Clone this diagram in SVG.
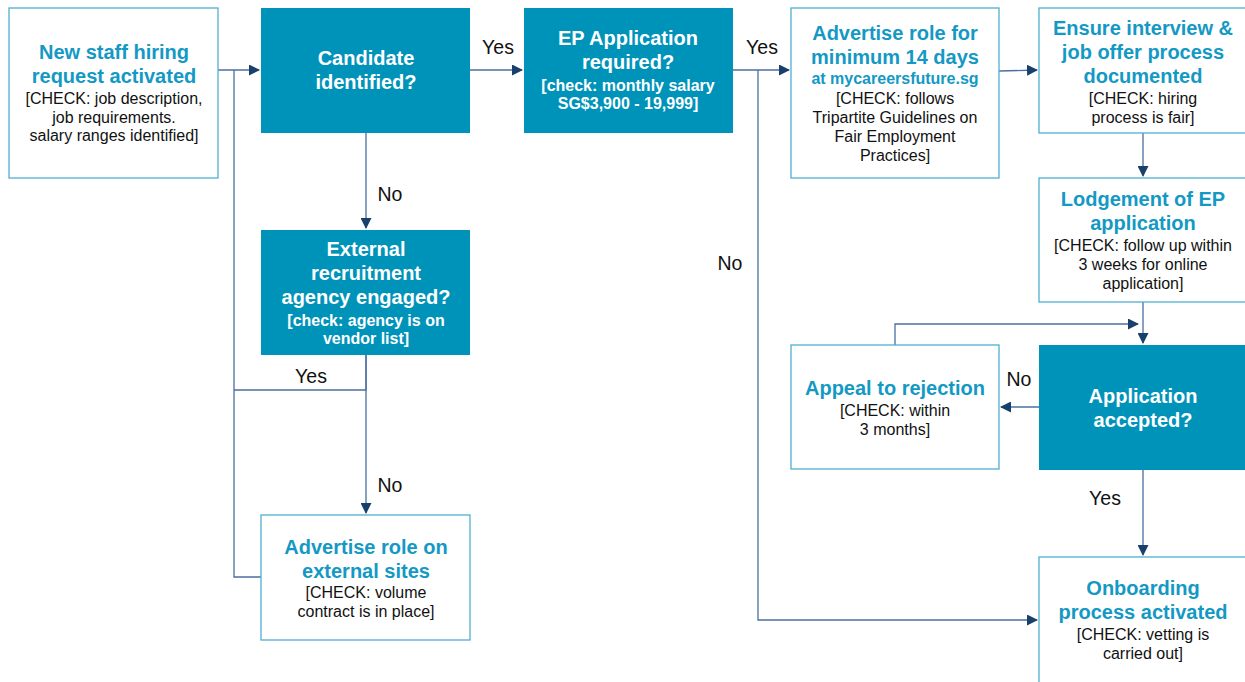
<svg xmlns="http://www.w3.org/2000/svg" width="1245" height="682" viewBox="0 0 1245 682">
<defs>
<marker id="ah" markerWidth="11" markerHeight="11" refX="10" refY="5.5" orient="auto" markerUnits="userSpaceOnUse">
<path d="M0,0 L11,5.5 L0,11 Z" fill="#17406D"/>
</marker>
<style>
.box{fill:#fff;stroke:#4FB0CF;stroke-width:1.3}
.dec{fill:#0093BA;stroke:none}
.t{font-family:"Liberation Sans",Arial,sans-serif;text-anchor:middle}
.h{font-size:20px;font-weight:bold;fill:#1399C4}
.hw{font-size:20px;font-weight:bold;fill:#fff}
.c{font-size:16px;fill:#111}
.cw{font-size:16px;font-weight:bold;fill:#fff}
.cb{font-size:16px;font-weight:bold;fill:#1399C4}
.lbl{font-family:"Liberation Sans",Arial,sans-serif;font-size:19.5px;fill:#111;text-anchor:middle}
.ln{fill:none;stroke:#4A6FA0;stroke-width:1.3}
</style>
</defs>
<rect width="1245" height="682" fill="#fff"/>
<g id="connectors">
<path class="ln" d="M218,70 L259,70" marker-end="url(#ah)"/>
<path class="ln" d="M261,577 L234,577 L234,70"/>
<path class="ln" d="M366,355 L366,390 L234,390"/>
<path class="ln" d="M470,70 L522,70" marker-end="url(#ah)"/>
<path class="ln" d="M733,70 L789,70" marker-end="url(#ah)"/>
<path class="ln" d="M758,70 L758,620 L1037,620" marker-end="url(#ah)"/>
<path class="ln" d="M999,71 L1037,70" marker-end="url(#ah)"/>
<path class="ln" d="M366,133 L366,228" marker-end="url(#ah)"/>
<path class="ln" d="M366,355 L366,513" marker-end="url(#ah)"/>
<path class="ln" d="M1143,133 L1143,176" marker-end="url(#ah)"/>
<path class="ln" d="M1143,302 L1143,343" marker-end="url(#ah)"/>
<path class="ln" d="M895,345 L895,324 L1138,324" marker-end="url(#ah)"/>
<path class="ln" d="M1039,407 L1001,407" marker-end="url(#ah)"/>
<path class="ln" d="M1143,470 L1143,555" marker-end="url(#ah)"/>
<text class="lbl" x="498" y="54">Yes</text>
<text class="lbl" x="762" y="54">Yes</text>
<text class="lbl" x="390" y="201">No</text>
<text class="lbl" x="311" y="383">Yes</text>
<text class="lbl" x="390" y="492">No</text>
<text class="lbl" x="730" y="270">No</text>
<text class="lbl" x="1019" y="386">No</text>
<text class="lbl" x="1105" y="505">Yes</text>
</g>
<g id="n-request">
<rect class="box" x="9" y="8" width="209" height="170"/>
<text class="t h" x="114" y="59">New staff hiring</text>
<text class="t h" x="114" y="83">request activated</text>
<text class="t c" x="114" y="104">[CHECK: job description,</text>
<text class="t c" x="114" y="123">job requirements.</text>
<text class="t c" x="114" y="141">salary ranges identified]</text>
</g>
<g id="n-candidate">
<rect class="dec" x="261" y="8" width="209" height="125"/>
<text class="t hw" x="366" y="65">Candidate</text>
<text class="t hw" x="366" y="89">identified?</text>
</g>
<g id="n-ep">
<rect class="dec" x="524" y="8" width="209" height="125"/>
<text class="t hw" x="628" y="45">EP Application</text>
<text class="t hw" x="628" y="69">required?</text>
<text class="t cw" x="628" y="91">[check: monthly salary</text>
<text class="t cw" x="628" y="109">SG$3,900 - 19,999]</text>
</g>
<g id="n-advertise">
<rect class="box" x="791" y="8" width="208" height="170"/>
<text class="t h" x="895" y="40">Advertise role for</text>
<text class="t h" x="895" y="64">minimum 14 days</text>
<text class="t cb" x="895" y="84">at mycareersfuture.sg</text>
<text class="t c" x="895" y="104">[CHECK: follows</text>
<text class="t c" x="895" y="123">Tripartite Guidelines on</text>
<text class="t c" x="895" y="142">Fair Employment</text>
<text class="t c" x="895" y="161">Practices]</text>
</g>
<g id="n-ensure">
<rect class="box" x="1039" y="8" width="214" height="125"/>
<text class="t h" x="1143" y="35">Ensure interview &amp;</text>
<text class="t h" x="1143" y="59">job offer process</text>
<text class="t h" x="1143" y="83">documented</text>
<text class="t c" x="1143" y="104">[CHECK: hiring</text>
<text class="t c" x="1143" y="123">process is fair]</text>
</g>
<g id="n-lodgement">
<rect class="box" x="1039" y="178" width="214" height="124"/>
<text class="t h" x="1143" y="206">Lodgement of EP</text>
<text class="t h" x="1143" y="230">application</text>
<text class="t c" x="1143" y="251">[CHECK: follow up within</text>
<text class="t c" x="1143" y="270">3 weeks for online</text>
<text class="t c" x="1143" y="289">application]</text>
</g>
<g id="n-external">
<rect class="dec" x="261" y="230" width="209" height="125"/>
<text class="t hw" x="366" y="256">External</text>
<text class="t hw" x="366" y="280">recruitment</text>
<text class="t hw" x="366" y="304">agency engaged?</text>
<text class="t cw" x="366" y="326">[check: agency is on</text>
<text class="t cw" x="366" y="344">vendor list]</text>
</g>
<g id="n-appeal">
<rect class="box" x="791" y="345" width="208" height="124"/>
<text class="t h" x="895" y="395">Appeal to rejection</text>
<text class="t c" x="895" y="416">[CHECK: within</text>
<text class="t c" x="895" y="435">3 months]</text>
</g>
<g id="n-accepted">
<rect class="dec" x="1039" y="345" width="214" height="125"/>
<text class="t hw" x="1143" y="403">Application</text>
<text class="t hw" x="1143" y="427">accepted?</text>
</g>
<g id="n-external-sites">
<rect class="box" x="261" y="515" width="209" height="125"/>
<text class="t h" x="366" y="554">Advertise role on</text>
<text class="t h" x="366" y="578">external sites</text>
<text class="t c" x="366" y="598">[CHECK: volume</text>
<text class="t c" x="366" y="617">contract is in place]</text>
</g>
<g id="n-onboarding">
<rect class="box" x="1039" y="557" width="214" height="135"/>
<text class="t h" x="1143" y="595">Onboarding</text>
<text class="t h" x="1143" y="619">process activated</text>
<text class="t c" x="1143" y="640">[CHECK: vetting is</text>
<text class="t c" x="1143" y="659">carried out]</text>
</g>
</svg>
